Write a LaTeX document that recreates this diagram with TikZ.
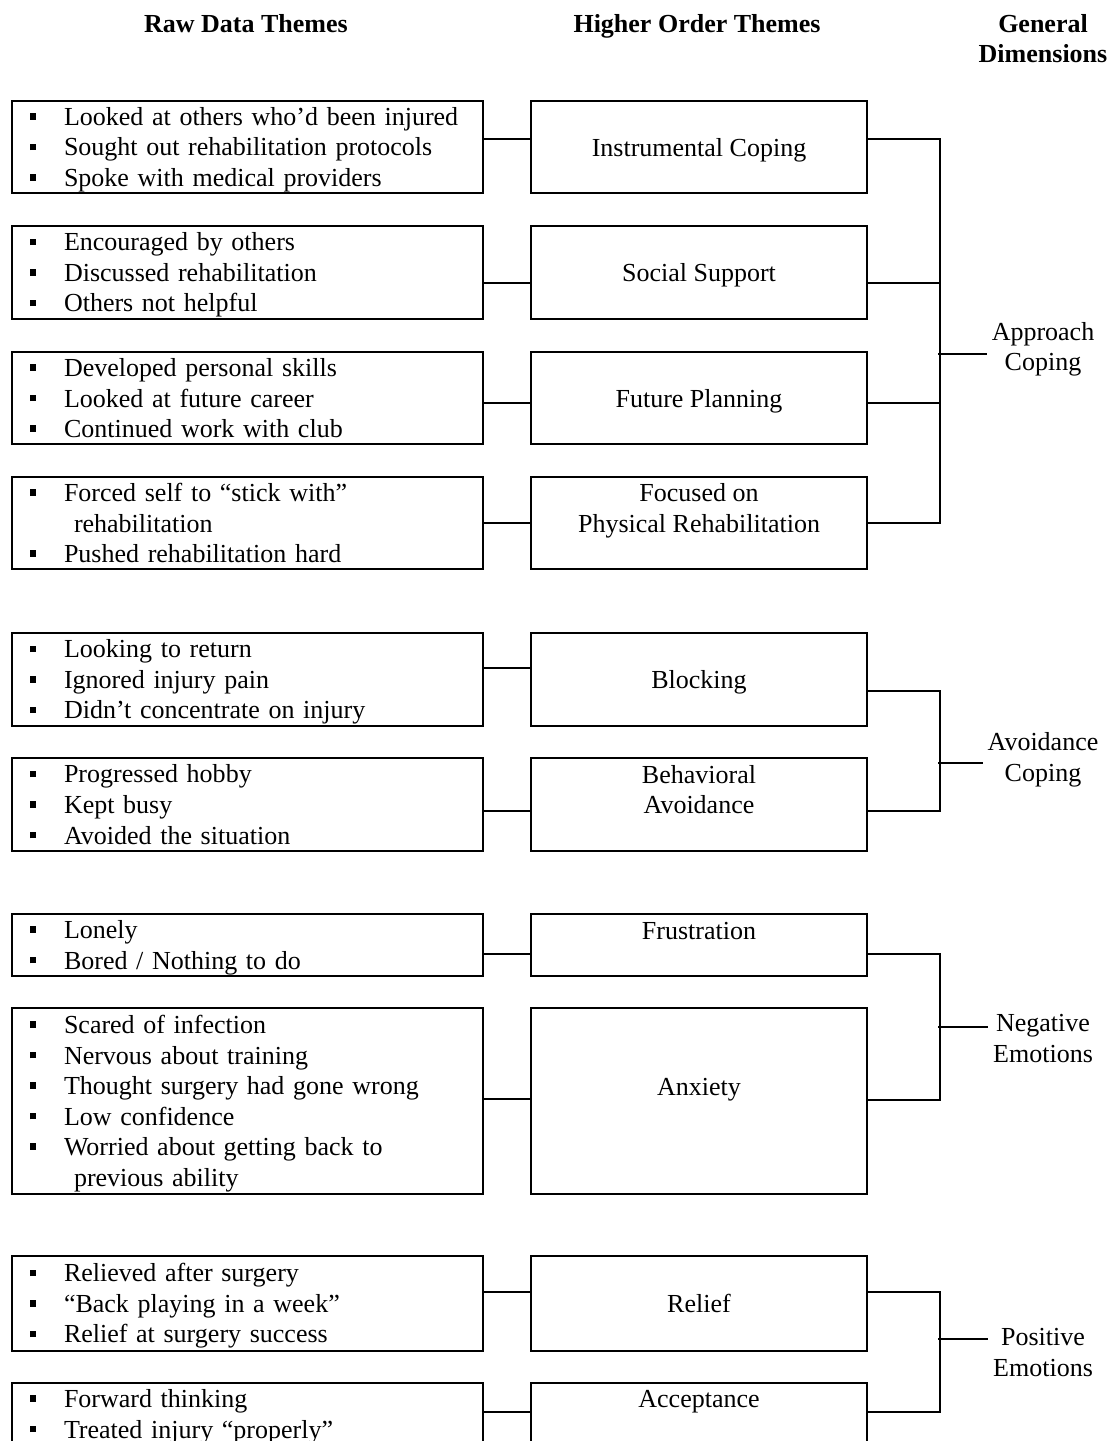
\documentclass[tikz,border=0pt]{standalone}
\usepackage{fontspec}
\setmainfont{Liberation Serif}
\newcommand{\bul}{\hspace*{4.1pt}\makebox[15.3pt][l]{\rule[2.6pt]{2.9pt}{2.9pt}}}
\newcommand{\cont}{\hspace*{23.9pt}}
\newcommand{\tstrut}{\rule{0pt}{11pt}}

\begin{document}
\begin{tikzpicture} [
    line width=0.6pt,
    y=-0.45pt, x=0.45pt,
    every node/.append style={font=\fontsize{11.7}{13.75}\selectfont},
    header/.style={font=\fontsize{11.7}{13.75}\selectfont\bfseries, anchor=base, align=center, inner sep=0pt},
    raw/.style={draw, line width=0.9pt, anchor=north west, minimum width=211.95pt,
      text width=203.95pt, inner xsep=4pt, inner ysep=0pt, align=left,
      execute at begin node={\rule{0pt}{10.5pt}}, execute at end node={\rule[-2.4pt]{0pt}{2.4pt}}},
    theme/.style={draw, line width=0.9pt, anchor=north west, minimum width=151.2pt,
      align=center, inner sep=0pt, execute at end node={\rule[-2.65pt]{0pt}{2.65pt}}},
    dimension/.style={anchor=base, align=center, inner sep=2pt}
  ]

  \useasboundingbox (0,0) rectangle (1114,1441);

  \node [header] (hraw) at (246,33) {Raw Data Themes};
  \node [header] (htheme) at (697,33) {Higher Order Themes};
  \node [header] (hdim) at (1043,63) {General\\Dimensions};

  % raw data themes
  \node [raw, minimum height=41.4pt] (raw1) at (11,100) {\bul Looked at others who'd been injured\\ \bul Sought out rehabilitation protocols\\ \bul Spoke with medical providers};
  \node [raw, minimum height=41.85pt] (raw2) at (11,225) {\bul Encouraged by others\\ \bul Discussed rehabilitation\\ \bul Others not helpful};
  \node [raw, minimum height=41.4pt] (raw3) at (11,351) {\bul Developed personal skills\\ \bul Looked at future career\\ \bul Continued work with club};
  \node [raw, minimum height=41.4pt] (raw4) at (11,476) {\bul Forced self to ``stick with''\\ \cont rehabilitation\\ \bul Pushed rehabilitation hard};
  \node [raw, minimum height=41.85pt] (raw5) at (11,632) {\bul Looking to return\\ \bul Ignored injury pain\\ \bul Didn't concentrate on injury};
  \node [raw, minimum height=41.85pt] (raw6) at (11,757) {\bul Progressed hobby\\ \bul Kept busy\\ \bul Avoided the situation};
  \node [raw, minimum height=27.9pt] (raw7) at (11,913) {\bul Lonely\\ \bul Bored / Nothing to do};
  \node [raw, minimum height=83.7pt] (raw8) at (11,1007) {\bul Scared of infection\\ \bul Nervous about training\\ \bul Thought surgery had gone wrong\\ \bul Low confidence\\ \bul Worried about getting back to\\ \cont previous ability};
  \node [raw, minimum height=42.75pt] (raw9) at (11,1255) {\bul Relieved after surgery\\ \bul ``Back playing in a week''\\ \bul Relief at surgery success};
  \node [raw, minimum height=41.4pt] (raw10) at (11,1382) {\bul Forward thinking\\ \bul Treated injury ``properly''\\ \mbox{}};

  % higher order themes
  \node [theme, minimum height=41.4pt] (hot1) at (530,100) {\tstrut Instrumental Coping};
  \node [theme, minimum height=41.85pt] (hot2) at (530,225) {\tstrut Social Support};
  \node [theme, minimum height=41.4pt] (hot3) at (530,351) {\tstrut Future Planning};
  \node [theme, minimum height=41.4pt] (hot4) at (530,476) {\tstrut Focused on\\Physical Rehabilitation\\\mbox{}};
  \node [theme, minimum height=41.85pt] (hot5) at (530,632) {\tstrut Blocking};
  \node [theme, minimum height=41.85pt] (hot6) at (530,757) {\tstrut Behavioral\\Avoidance\\\mbox{}};
  \node [theme, minimum height=27.9pt] (hot7) at (530,913) {\tstrut Frustration\\\mbox{}};
  \node [theme, minimum height=83.7pt] (hot8) at (530,1007) {\tstrut Anxiety\\\mbox{}};
  \node [theme, minimum height=42.75pt] (hot9) at (530,1255) {\tstrut Relief};
  \node [theme, minimum height=41.4pt] (hot10) at (530,1382) {\tstrut Acceptance\\\mbox{}\\\mbox{}};

  % general dimensions
  \node [dimension] (approach) at (1043,371) {Approach\\Coping};
  \node [dimension] (avoidance) at (1043,781) {Avoidance\\Coping};
  \node [dimension] (negative) at (1043,1062) {Negative\\Emotions};
  \node [dimension] (positive) at (1043,1376) {Positive\\Emotions};

  % raw -> higher order
  \draw ([yshift=3.6pt]raw1.east) -- ([yshift=3.6pt]hot1.west);
  \draw ([yshift=-4.7pt]raw2.east) -- ([yshift=-4.7pt]hot2.west);
  \draw ([yshift=-2.25pt]raw3.east) -- ([yshift=-2.25pt]hot3.west);
  \draw (raw4.east) -- (hot4.west);
  \draw ([yshift=5.2pt]raw5.east) -- ([yshift=5.2pt]hot5.west);
  \draw ([yshift=-2.9pt]raw6.east) -- ([yshift=-2.9pt]hot6.west);
  \draw ([yshift=-4.05pt]raw7.east) -- ([yshift=-4.05pt]hot7.west);
  \draw ([yshift=0.9pt]raw8.east) -- ([yshift=0.9pt]hot8.west);
  \draw ([yshift=5.2pt]raw9.east) -- ([yshift=5.2pt]hot9.west);
  \draw ([yshift=7.65pt]raw10.east) -- ([yshift=7.65pt]hot10.west);

  % higher order -> general dimensions
  \draw ([yshift=3.6pt]hot1.east) -- ++(72,0) |- (hot4.east);
  \draw ([yshift=-4.7pt]hot2.east) -- ++(72,0);
  \draw ([yshift=-2.25pt]hot3.east) -- ++(72,0);
  \coordinate (japproach) at (938,354);
  \draw (japproach) -- (japproach -| approach.west);

  \draw ([yshift=-5.2pt]hot5.east) -- ++(72,0) |- ([yshift=-2.9pt]hot6.east);
  \coordinate (javoidance) at (938,763);
  \draw (javoidance) -- (javoidance -| avoidance.west);

  \draw ([yshift=-4.05pt]hot7.east) -- ++(72,0) |- ([yshift=0.45pt]hot8.east);
  \coordinate (jnegative) at (938,1027);
  \draw (jnegative) -- (jnegative -| negative.west);

  \draw ([yshift=5.2pt]hot9.east) -- ++(72,0) |- ([yshift=7.65pt]hot10.east);
  \coordinate (jpositive) at (938,1339);
  \draw (jpositive) -- (jpositive -| positive.west);
\end{tikzpicture}
\end{document}
